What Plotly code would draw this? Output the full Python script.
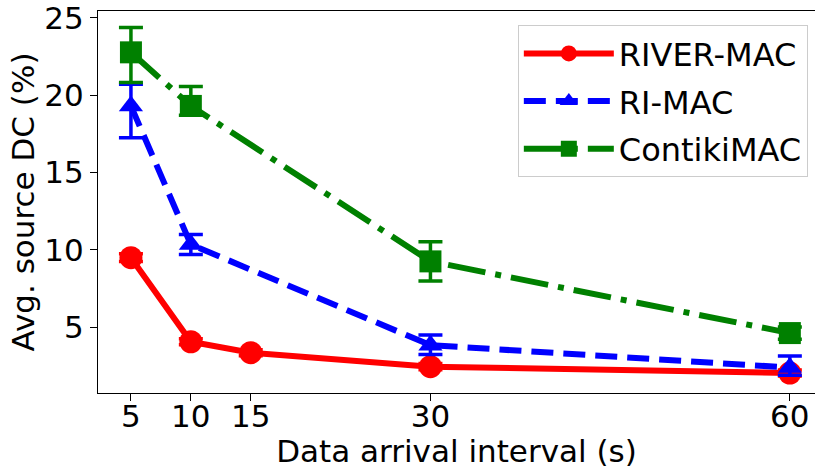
import plotly.graph_objects as go

# Data
x_all = [5, 10, 15, 30, 60]
river_y = [9.5, 4.07, 3.36, 2.46, 2.05]
river_err = [0.25, 0.2, 0.2, 0.2, 0.2]

ri_x = [5, 10, 30, 60]
ri_y = [19.3, 10.35, 3.85, 2.4]
ri_err_plus = [1.4, 0.65, 0.65, 0.75]
ri_err_minus = [2.05, 0.65, 0.6, 0.5]

ck_x = [5, 10, 30, 60]
ck_y = [22.76, 19.3, 9.26, 4.63]
ck_err_plus = [1.6, 1.25, 1.27, 0.4]
ck_err_minus = [1.95, 0.6, 1.27, 0.4]

xticks = [5, 10, 15, 30, 60]
yticks = [5, 10, 15, 20, 25]

FONT = "DejaVu Sans"
FS = 31

fig = go.Figure()

def add(name, x, y, ep, em, color, dash, symbol, msize, group):
    fig.add_trace(go.Scatter(
        x=x, y=y, name=name, mode="lines+markers",
        legendgroup=group,
        line=dict(color=color, width=6, dash=dash),
        marker=dict(color=color, symbol=symbol, size=msize, line=dict(width=0)),
        error_y=dict(type="data", symmetric=False, array=ep, arrayminus=em,
                     color=color, thickness=3.5, width=12),
    ))

add("RIVER-MAC", x_all, river_y, river_err, river_err, "red", "solid", "circle", 23, "a")
add("RI-MAC", ri_x, ri_y, ri_err_plus, ri_err_minus, "blue", "22px,10px", "triangle-up", 21, "b")
add("ContikiMAC", ck_x, ck_y, ck_err_plus, ck_err_minus, "green", "38px,10px,6px,10px", "square", 22, "c")

fig.update_layout(
    width=815, height=469,
    margin=dict(l=98, r=0, t=11, b=76),
    paper_bgcolor="white", plot_bgcolor="white",
    font=dict(family=FONT, size=FS, color="black"),
    showlegend=True,
    legend=dict(
        x=0.99, y=0.963, xanchor="right", yanchor="top",
        bgcolor="rgba(255,255,255,0.8)", bordercolor="#cccccc", borderwidth=1,
        font=dict(family=FONT, size=32, color="black"),
        itemwidth=90, tracegroupgap=3, traceorder="grouped",
    ),
)

fig.update_xaxes(
    range=[2.25, 62.1], tickvals=xticks, ticktext=[str(v) for v in xticks],
    showgrid=False, zeroline=False,
    showline=True, linecolor="black", linewidth=1.3, mirror=True,
    ticks="outside", ticklen=7, tickwidth=1.3, tickcolor="black",
    ticklabelstandoff=-11,
    title=dict(text="Data arrival interval (s)", standoff=4,
               font=dict(family=FONT, size=FS)),
)
fig.update_yaxes(
    range=[0.76, 25.43], tickvals=yticks,
    showgrid=False, zeroline=False,
    showline=True, linecolor="black", linewidth=1.3, mirror=False,
    ticks="outside", ticklen=7, tickwidth=1.3, tickcolor="black",
    ticklabeloverflow="allow",
    title=dict(text="Avg. source DC (%)", standoff=0,
               font=dict(family=FONT, size=FS)),
)

fig.write_html("out.html")
